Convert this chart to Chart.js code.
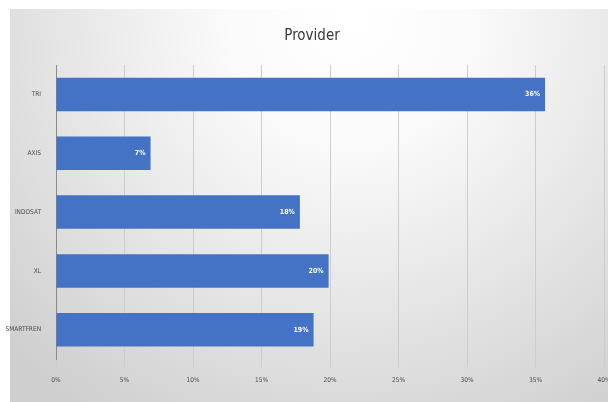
<!DOCTYPE html>
<html>
<head>
<meta charset="UTF-8">
<title>Provider</title>
<script src="https://cdn.jsdelivr.net/npm/chart.js"></script>
<style>
  html, body { margin: 0; padding: 0; background: #fff; }
  #wrap { width: 608px; height: 402px; }
</style>
</head>
<body>
<div id="wrap"><canvas id="grafico" width="608" height="402"></canvas></div>
<script>
// dados
const provedores = ['TRI', 'AXIS', 'INDOSAT', 'XL', 'SMARTFREN'];
const percentuais = [35.7, 6.9, 17.8, 19.9, 18.8];
const rotulosEixo = ['0%', '5%', '10%', '15%', '20%', '25%', '30%', '35%', '40%'];
const titulo = 'Provider';

const fonteEstreita = "'DejaVu Sans Condensed', 'Liberation Sans Narrow', sans-serif";

// fundo cinza com brilho no meio + titulo centrado no quadro
const fundo = {
  id: 'fundo',
  beforeDraw(chart) {
    const ctx = chart.ctx;
    ctx.save();
    ctx.fillStyle = '#ffffff';
    ctx.fillRect(0, 0, chart.width, chart.height);
    const g = ctx.createRadialGradient(350, 20, 0, 350, 20, 470);
    g.addColorStop(0, '#ffffff');
    g.addColorStop(0.25, '#fbfbfb');
    g.addColorStop(1, '#cfcfcf');
    ctx.fillStyle = g;
    ctx.fillRect(10, 9, chart.width - 10, chart.height - 9);

    ctx.fillStyle = '#383838';
    ctx.font = '15px ' + fonteEstreita;
    ctx.textAlign = 'center';
    ctx.textBaseline = 'middle';
    ctx.fillText(titulo, (10 + chart.width) / 2 + 3, 36);
    ctx.restore();
  }
};

// rotulos brancos dentro das barras
const rotulos = {
  id: 'rotulos',
  afterDatasetsDraw(chart) {
    const ctx = chart.ctx;
    const meta = chart.getDatasetMeta(0);
    ctx.save();
    ctx.fillStyle = '#ffffff';
    ctx.font = 'bold 7px ' + fonteEstreita;
    ctx.textAlign = 'right';
    ctx.textBaseline = 'middle';
    meta.data.forEach((barra, i) => {
      ctx.fillText(Math.round(percentuais[i]) + '%', barra.x - 5, barra.y);
    });
    ctx.restore();
  }
};

new Chart(document.getElementById('grafico'), {
  type: 'bar',
  data: {
    labels: provedores,
    datasets: [{
      data: percentuais,
      backgroundColor: '#4472C4',
      borderWidth: 0,
      barPercentage: 0.57,
      categoryPercentage: 1
    }]
  },
  options: {
    indexAxis: 'y',
    responsive: false,
    animation: false,
    layout: { padding: { left: 0, right: 4, top: 65, bottom: 9 } },
    plugins: {
      legend: { display: false },
      tooltip: { enabled: false },
      title: { display: false }
    },
    scales: {
      x: {
        min: 0,
        max: 40,
        ticks: {
          stepSize: 5,
          color: '#4a4a4a',
          font: { family: fonteEstreita, size: 6.5 },
          padding: 9,
          maxRotation: 0,
          callback: (v, i) => rotulosEixo[i]
        },
        grid: { color: '#cdcdcd', tickLength: 8, lineWidth: 1 },
        border: { display: false },
        afterFit(scale) { scale.paddingRight = 0; scale.paddingLeft = 0; }
      },
      y: {
        ticks: {
          color: '#4a4a4a',
          font: { family: fonteEstreita, size: 6.5 },
          padding: 7
        },
        grid: { display: false },
        border: { display: true, color: '#8a8a8a', width: 1 },
        afterFit(scale) { scale.width = 56; }
      }
    }
  },
  plugins: [fundo, rotulos]
});
</script>
</body>
</html>
